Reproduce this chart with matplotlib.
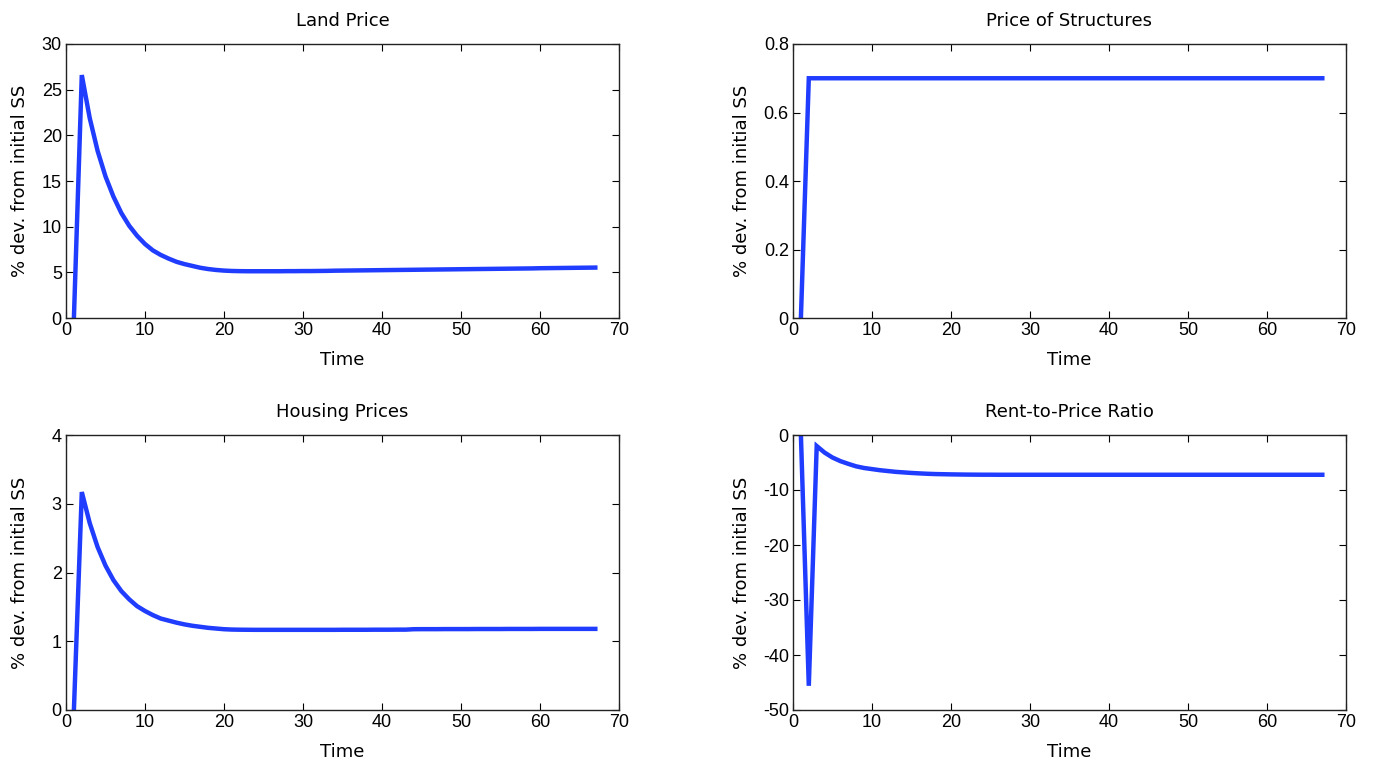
import matplotlib
matplotlib.use("Agg")
import matplotlib.pyplot as plt

# Impulse responses, periods 1..67
time = list(range(1, 68))

land_price = [
    0.0, 26.6, 21.9, 18.3, 15.5, 13.3, 11.5, 10.1, 9.0, 8.1,
    7.4, 6.9, 6.5, 6.15, 5.9, 5.7, 5.5, 5.36, 5.26, 5.19,
    5.15, 5.13, 5.12, 5.12, 5.12, 5.12, 5.12, 5.13, 5.13, 5.14,
    5.14, 5.15, 5.16, 5.18, 5.19, 5.2, 5.21, 5.22, 5.23, 5.24,
    5.25, 5.26, 5.27, 5.28, 5.29, 5.3, 5.31, 5.32, 5.33, 5.34,
    5.35, 5.36, 5.37, 5.38, 5.39, 5.4, 5.41, 5.42, 5.43, 5.45,
    5.46, 5.47, 5.48, 5.49, 5.5, 5.51, 5.52,
]

price_structures = [0.0] + [0.7] * 66

housing_prices = [
    0.0, 3.17, 2.72, 2.37, 2.1, 1.89, 1.73, 1.61, 1.51, 1.44,
    1.38, 1.33, 1.3, 1.27, 1.245, 1.225, 1.21, 1.195, 1.185, 1.175,
    1.17, 1.168, 1.167, 1.166, 1.166, 1.166, 1.166, 1.166, 1.166, 1.166,
    1.166, 1.166, 1.166, 1.166, 1.167, 1.167, 1.167, 1.167, 1.168, 1.168,
    1.168, 1.169, 1.169, 1.175, 1.176, 1.176, 1.176, 1.177, 1.177, 1.177,
    1.177, 1.178, 1.178, 1.178, 1.178, 1.179, 1.179, 1.179, 1.179, 1.18,
    1.18, 1.18, 1.18, 1.18, 1.18, 1.18, 1.18,
]

rent_to_price = [
    0.0, -45.6, -2.0, -3.2, -4.1, -4.75, -5.25, -5.7, -6.0, -6.2,
    -6.4, -6.55, -6.7, -6.8, -6.9, -6.98, -7.05, -7.1, -7.13, -7.16,
    -7.18, -7.2, -7.21, -7.22, -7.22, -7.23, -7.23, -7.23, -7.23, -7.23,
    -7.23, -7.23, -7.23, -7.23, -7.23, -7.23, -7.23, -7.23, -7.23, -7.23,
    -7.23, -7.23, -7.23, -7.23, -7.23, -7.23, -7.23, -7.23, -7.23, -7.23,
    -7.23, -7.23, -7.23, -7.23, -7.23, -7.23, -7.23, -7.23, -7.23, -7.23,
    -7.23, -7.23, -7.23, -7.23, -7.23, -7.23, -7.23,
]

panels = [
    ("Land Price", land_price, (0, 30), [0, 5, 10, 15, 20, 25, 30], ["0", "5", "10", "15", "20", "25", "30"]),
    ("Price of Structures", price_structures, (0, 0.8), [0, 0.2, 0.4, 0.6, 0.8], ["0", "0.2", "0.4", "0.6", "0.8"]),
    ("Housing Prices", housing_prices, (0, 4), [0, 1, 2, 3, 4], ["0", "1", "2", "3", "4"]),
    ("Rent-to-Price Ratio", rent_to_price, (-50, 0), [-50, -40, -30, -20, -10, 0], ["-50", "-40", "-30", "-20", "-10", "0"]),
]

x_ticks = [0, 10, 20, 30, 40, 50, 60, 70]

W, H = 1375, 767
fig = plt.figure(figsize=(W / 100, H / 100), dpi=100)

# axes boxes in pixels: left, top, right, bottom
boxes = [
    (66, 44, 619, 318),
    (793, 44, 1346, 318),
    (66, 435, 619, 710),
    (793, 435, 1346, 710),
]
label_x = [-0.067, -0.076, -0.067, -0.076]

tick_font = "Liberation Sans"
text_font = "DejaVu Sans"
line_color = "#1f3cff"

for (title, values, ylim, yt, ytl), (l, t, r, b), lx in zip(panels, boxes, label_x):
    ax = fig.add_axes([l / W, 1 - b / H, (r - l) / W, (b - t) / H])
    ax.plot(time, values, color=line_color, lw=3.2, solid_joinstyle="miter")
    ax.set_xlim(0, 70)
    ax.set_ylim(*ylim)
    ax.set_xticks(x_ticks)
    ax.set_xticklabels([str(v) for v in x_ticks])
    ax.set_yticks(yt)
    ax.set_yticklabels(ytl)
    ax.tick_params(direction="in", length=5, width=0.8, top=True, right=True,
                   labelsize=13, pad=3, colors="black")
    for lab in ax.get_xticklabels() + ax.get_yticklabels():
        lab.set_fontfamily(tick_font)
    for sp in ax.spines.values():
        sp.set_linewidth(1.0)
        sp.set_color("#222222")
    ax.set_title(title, fontsize=13, family=text_font, pad=13)
    ax.set_xlabel("Time", fontsize=13, family=text_font, labelpad=8.5)
    ax.set_ylabel("% dev. from initial SS", fontsize=13, family=text_font)
    ax.yaxis.set_label_coords(lx, 0.5)

fig.savefig("out.png", dpi=100)
